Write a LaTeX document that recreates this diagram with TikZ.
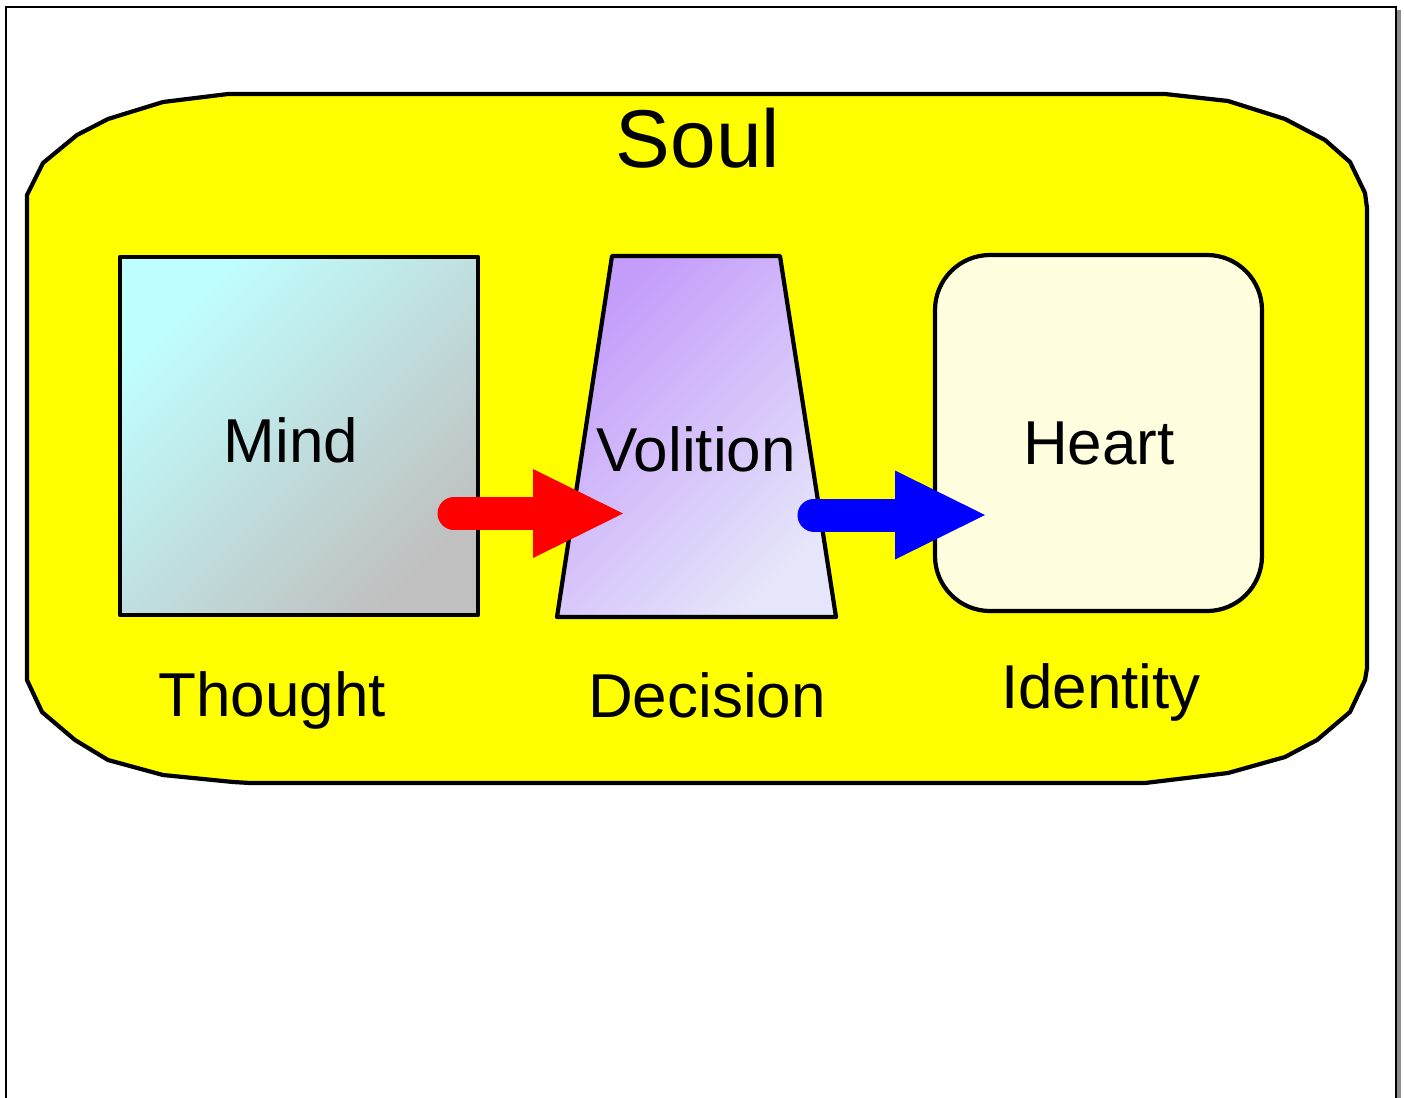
\documentclass[tikz,border=0pt]{standalone}
\usepackage{fontspec}
\setmainfont{Liberation Sans}
\usetikzlibrary{arrows.meta}
\definecolor{soulfill}{RGB}{255,255,0}
\definecolor{mindA}{RGB}{192,255,255}
\definecolor{mindB}{RGB}{192,192,192}
\definecolor{volA}{RGB}{196,156,250}
\definecolor{volB}{RGB}{230,230,250}
\definecolor{heartfill}{RGB}{255,255,224}
\definecolor{redarrow}{RGB}{255,0,0}
\definecolor{bluearrow}{RGB}{0,0,255}
\tikzset{
  outline/.style={draw=black, line width=2.1pt, line join=round},
  lbl/.style={font=\fontsize{31}{38}\selectfont, inner sep=0pt},
  bigarrow/.style={line width=16.5pt, line cap=round, -{Triangle[length=45pt,width=44.5pt,line width=0pt]}},
}
\begin{document}
\begin{tikzpicture}[x=0.5pt,y=-0.5pt]
\useasboundingbox (0,0) rectangle (1404,1098);
% frame
\draw[gray!90, line width=2pt] (1399,10) -- (1399,1098);
\draw[line width=1pt] (6,1098) -- (6,7) -- (1396,7) -- (1396,1098);
% soul
\draw[outline, fill=soulfill] (228,94) -- (1165,94) -- (1228,101) -- (1285,119) -- (1325,140) -- (1350,162) -- (1365,193) -- (1367,208)
  -- (1367,668) -- (1365,680) -- (1350,712) -- (1317,740) -- (1285,757) -- (1228,773) -- (1145,783)
  -- (250,783) -- (233,782) -- (163,775) -- (108,760) -- (75,740) -- (42,712) -- (27,680)
  -- (27,195) -- (43,163) -- (77,135) -- (108,119) -- (163,102) -- cycle;
\node[font=\fontsize{41}{48}\selectfont, inner sep=0pt] (soul) at (698,138) {Soul};
% mind
\node[outline, minimum width=179pt, minimum height=179pt, top color=mindA, bottom color=mindB, shading angle=45] (mindbox) at (299,436) {};
\node[lbl] (mind) at (291,440) {Mind};
% volition
\draw[outline, top color=volA, bottom color=volB, shading angle=45] (557,617) -- (612,256) -- (780,256) -- (836,617) -- cycle;
\coordinate (volbox) at (696,436);
\node[lbl] (vol) at (696,449) {Volition};
% heart
\node[outline, fill=heartfill, rounded corners=27.5pt, minimum width=163.5pt, minimum height=178pt] (heartbox) at (1098.5,433) {};
\node[lbl] (heart) at (1099,443) {Heart};
% labels
\node[lbl] (thought) at (272,700) {Thought};
\node[lbl] (decision) at (707,695) {Decision};
\node[lbl] (identity) at (1101,692) {Identity};
% arrows
\coordinate (ra) at (454,513.5);
\coordinate (rb) at (623,513.5);
\coordinate (ba) at (814,515);
\coordinate (bb) at (985,515);
\draw[bigarrow, redarrow] (ra) -- (rb);
\draw[bigarrow, bluearrow] (ba) -- (bb);
\end{tikzpicture}
\end{document}
